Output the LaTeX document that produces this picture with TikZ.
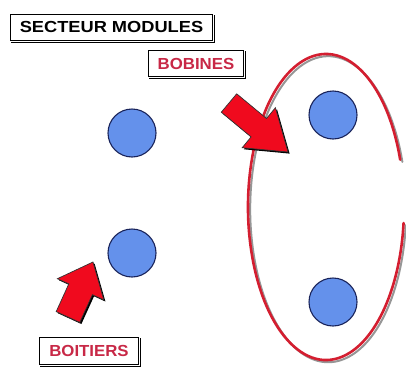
\documentclass[tikz,border=0pt]{standalone}
\usepackage{fontspec}
\setmainfont{Liberation Sans}
\definecolor{loopred}{RGB}{212,30,48}
\definecolor{shadowgray}{RGB}{150,150,150}
\definecolor{arrowred}{RGB}{240,10,30}
\definecolor{discblue}{RGB}{100,145,235}
\definecolor{discedge}{RGB}{25,35,90}
\definecolor{labelred}{RGB}{200,40,70}
\tikzset{
  disc/.style={circle, draw=discedge, line width=1.1pt, fill=discblue, minimum size=48pt, inner sep=0pt},
  labelbox/.style={draw=black, line width=1pt, fill=white, inner xsep=5pt, inner ysep=4pt, font=\fontsize{16}{16}\selectfont\bfseries},
  redlabel/.style={labelbox, text=labelred},
  boxshadow/.style={fill=black},
  blockarrow/.style={fill=arrowred, draw=black!80, line width=0.7pt, line join=miter},
  arrowshadow/.style={fill=black},
  loopline/.style={draw=loopred, line width=2.6pt, line cap=round},
  loopshadow/.style={draw=shadowgray, line width=2pt, line cap=round}
}
\begin{document}
\begin{tikzpicture}[x=1pt,y=-1pt]
\useasboundingbox (0,0) rectangle (406,367);
\fill[white] (0,0) rectangle (406,367);

% discs
\node[disc] (d1) at (132,133) {};
\node[disc] (d2) at (132,253) {};
\node[disc] (d3) at (333,115) {};
\node[disc] (d4) at (333,302) {};

% loop round the right-hand discs (open on the right)
\coordinate (lc) at (326,207);
\draw[loopshadow] ([shift={(2.2,2.2)}]lc) ++(-18:78 and 153) arc[start angle=-18, end angle=-354, x radius=78, y radius=153];
\draw[loopline] (lc) ++(-18:78 and 153) arc[start angle=-18, end angle=-354, x radius=78, y radius=153];

% block arrow towards the loop (BOBINES)
\def\arrowA{(221.3,112.2) -- (251.1,136.9) -- (242.2,147.7) -- (288,152) -- (275.4,107.7) -- (266.5,118.5) -- (236.7,93.8) -- cycle}
\fill[arrowshadow, shift={(1.6,1.6)}] \arrowA;
\draw[blockarrow] \arrowA;

% block arrow towards the lower left disc (BOITIERS)
\def\arrowB{(79.8,322.4) -- (92.4,294.7) -- (103.8,299.9) -- (93,262) -- (57.4,278.7) -- (68.8,283.9) -- (56.2,311.6) -- cycle}
\fill[arrowshadow, shift={(1.6,1.6)}] \arrowB;
\draw[blockarrow] \arrowB;

% labels
\node[labelbox, minimum width=202pt, minimum height=26pt] (title) at (111.5,27) {\scalebox{1.14}[1]{SECTEUR MODULES}};
\fill[boxshadow] ([xshift=1pt,yshift=-1pt]title.south west) rectangle ([xshift=2pt,yshift=-2.2pt]title.south east);
\fill[boxshadow] ([xshift=1pt,yshift=-1pt]title.north east) rectangle ([xshift=2.2pt,yshift=-2.2pt]title.south east);

\node[redlabel, minimum width=95pt, minimum height=26pt] (bob) at (196,63.5) {\scalebox{1.05}[1]{BOBINES}};
\fill[boxshadow] ([xshift=1pt,yshift=-1pt]bob.south west) rectangle ([xshift=2pt,yshift=-2.2pt]bob.south east);
\fill[boxshadow] ([xshift=1pt,yshift=-1pt]bob.north east) rectangle ([xshift=2.2pt,yshift=-2.2pt]bob.south east);

\node[redlabel, minimum width=99pt, minimum height=27pt] (boi) at (89,351) {\scalebox{1.05}[1]{BOITIERS}};
\fill[boxshadow] ([xshift=1pt,yshift=-1pt]boi.south west) rectangle ([xshift=2pt,yshift=-2.2pt]boi.south east);
\fill[boxshadow] ([xshift=1pt,yshift=-1pt]boi.north east) rectangle ([xshift=2.2pt,yshift=-2.2pt]boi.south east);
\end{tikzpicture}
\end{document}
